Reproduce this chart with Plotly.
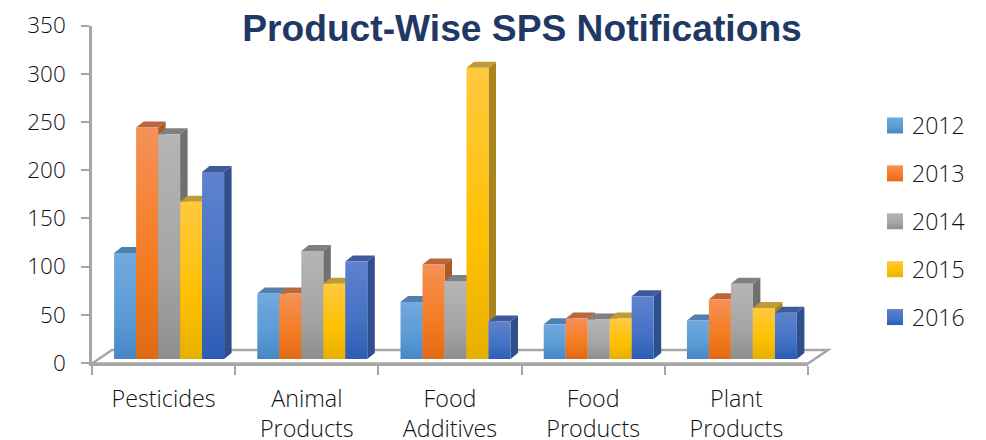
import plotly.graph_objects as go

categories = ["Pesticides", "Animal<br>Products", "Food<br>Additives", "Food<br>Products", "Plant<br>Products"]
years = ["2012", "2013", "2014", "2015", "2016"]
v2012 = [110, 68, 59, 36, 40]
v2013 = [240, 68, 98, 42, 62]
v2014 = [233, 112, 81, 41, 78]
v2015 = [163, 78, 302, 42, 53]
v2016 = [194, 101, 39, 65, 48]
series = [v2012, v2013, v2014, v2015, v2016]
y_ticks = [0, 50, 100, 150, 200, 250, 300, 350]

mid_colors = ["#5b9bd5", "#f47b20", "#a5a5a5", "#ffc000", "#4472c4"]
grad = [("#72a9de", "#5b9bd5", "#4686c4"), ("#f69158", "#f47b20", "#e06a14"),
        ("#b5b5b5", "#a5a5a5", "#8e8e8e"), ("#ffc93f", "#ffc000", "#e6b000"),
        ("#5f82cf", "#4472c4", "#2c5cb4")]
top_colors = ["#4f80b0", "#b9673b", "#808080", "#c09a34", "#3f5a98"]
side_colors = ["#3a6c9e", "#ad5a26", "#707070", "#a8841a", "#2f4f8c"]

W, H = 986, 440
GAP = 0.232
BAR_W = (1 - GAP) / 5
DX = 7.5 / 143.2           # depth of a bar, in category units
DY = 6 * 50 / 48.2         # depth of a bar, in value units
AXIS = "#a6a6a6"
TEXT = "#111111"
FONT = "Open Sans"


def px(x):
    return x / W


def py(y):
    return 1 - y / H


fig = go.Figure()

# Holds the visible axes (x / y)
fig.add_trace(go.Scatter(x=categories, y=[0] * 5, mode="markers", marker=dict(opacity=0),
                         showlegend=False, hoverinfo="skip", xaxis="x", yaxis="y"))

for i, (name, vals) in enumerate(zip(years, series)):
    fig.add_trace(go.Bar(x=categories, y=vals, name=name, xaxis="x2", yaxis="y2",
                         marker=dict(color=mid_colors[i], line=dict(width=0)),
                         legendgroup=name))

shapes = [dict(type="path", xref="paper", yref="paper", layer="below",
               path=f"M{px(92)},{py(363.5)} L{px(112)},{py(350)} L{px(828)},{py(350)} L{px(808)},{py(363.5)} Z",
               line=dict(color=AXIS, width=2.5), fillcolor="white")]
for i, vals in enumerate(series):
    for c, v in enumerate(vals):
        left = c - (1 - GAP) / 2 + i * BAR_W
        right = left + BAR_W
        # side face
        shapes.append(dict(type="path", xref="x2", yref="y2", layer="below", line=dict(width=0),
                           fillcolor=side_colors[i],
                           path=f"M{right},0 L{right + DX},{DY} L{right + DX},{v + DY} L{right},{v} Z"))
        # top face
        shapes.append(dict(type="path", xref="x2", yref="y2", layer="below", line=dict(width=0),
                           fillcolor=top_colors[i],
                           path=f"M{left},{v} L{left + DX},{v + DY} L{right + DX},{v + DY} L{right},{v} Z"))

fig.update_layout(
    width=W, height=H, autosize=False,
    margin=dict(l=0, r=0, t=0, b=0, autoexpand=False),
    paper_bgcolor="white", plot_bgcolor="rgba(0,0,0,0)",
    barmode="group", bargap=GAP, bargroupgap=0,
    shapes=shapes,
    font=dict(family=FONT, color=TEXT, size=23),
    title=dict(text="Product-Wise SPS Notifications", x=px(522), y=py(28),
               xanchor="center", yanchor="middle",
               font=dict(family="Liberation Sans", size=37.2, color="#1f3864", weight=700)),
    xaxis=dict(domain=[px(92), px(808)], anchor="y", type="category", categoryorder="array",
               categoryarray=categories, range=[-0.5, 4.5], showline=True, linecolor=AXIS, linewidth=2.5,
               ticks="outside", ticklen=9, tickwidth=1.5, tickcolor=AXIS, tickson="boundaries",
               ticklabelstandoff=13,
               showgrid=False, zeroline=False, tickfont=dict(size=23.3, color=TEXT, family=FONT, weight=300)),
    yaxis=dict(domain=[py(363), py(25.5)], anchor="x", range=[0, 350], tickvals=y_ticks,
               showline=True, linecolor=AXIS, linewidth=2.5, ticks="outside", ticklen=8,
               tickwidth=1.5, tickcolor=AXIS, showgrid=False, zeroline=False, ticklabelstandoff=11,
               tickfont=dict(size=22.5, color=TEXT, family=FONT, weight=300)),
    xaxis2=dict(domain=[px(97.5), px(813.5)], anchor="y2", type="category", categoryorder="array",
                categoryarray=categories, range=[-0.5, 4.5], visible=False),
    yaxis2=dict(domain=[py(359), py(21.5)], anchor="x2", range=[0, 350], visible=False),
    legend=dict(x=px(872), y=py(104), xanchor="left", yanchor="top", tracegroupgap=15,
                bgcolor="rgba(0,0,0,0)", font=dict(size=23, color=TEXT, family=FONT, weight=300)),
)

stops = "".join(
    f'<linearGradient id="g{i}" x1="0" y1="0" x2="0" y2="1">'
    f'<stop offset="0" stop-color="{a}"/><stop offset="0.6" stop-color="{b}"/>'
    f'<stop offset="1" stop-color="{c}"/></linearGradient>'
    for i, (a, b, c) in enumerate(grad))
post = """
document.body.style.margin = '0';
var gd = document.getElementsByClassName('plotly-graph-div')[0];
var holder = document.createElementNS('http://www.w3.org/2000/svg', 'svg');
holder.setAttribute('width', 0); holder.setAttribute('height', 0);
holder.style.position = 'absolute';
holder.innerHTML = '<defs>%s</defs>';
document.body.insertBefore(holder, document.body.firstChild);
gd.querySelectorAll('.barlayer .trace.bars').forEach(function (t, i) {
  t.querySelectorAll('path').forEach(function (p) { p.style.fill = 'url(#g' + i + ')'; });
});
gd.querySelectorAll('.legend .traces').forEach(function (t, i) {
  t.querySelectorAll('.legendpoints path').forEach(function (p) {
    p.setAttribute('d', 'M8,8H-8V-8H8Z');
    p.setAttribute('transform', 'translate(23,0)');
    p.style.fill = 'url(#g' + i + ')';
    p.style.stroke = 'none';
  });
});
""" % stops
fig.write_html("out.html", post_script=post, config={"displayModeBar": False})
